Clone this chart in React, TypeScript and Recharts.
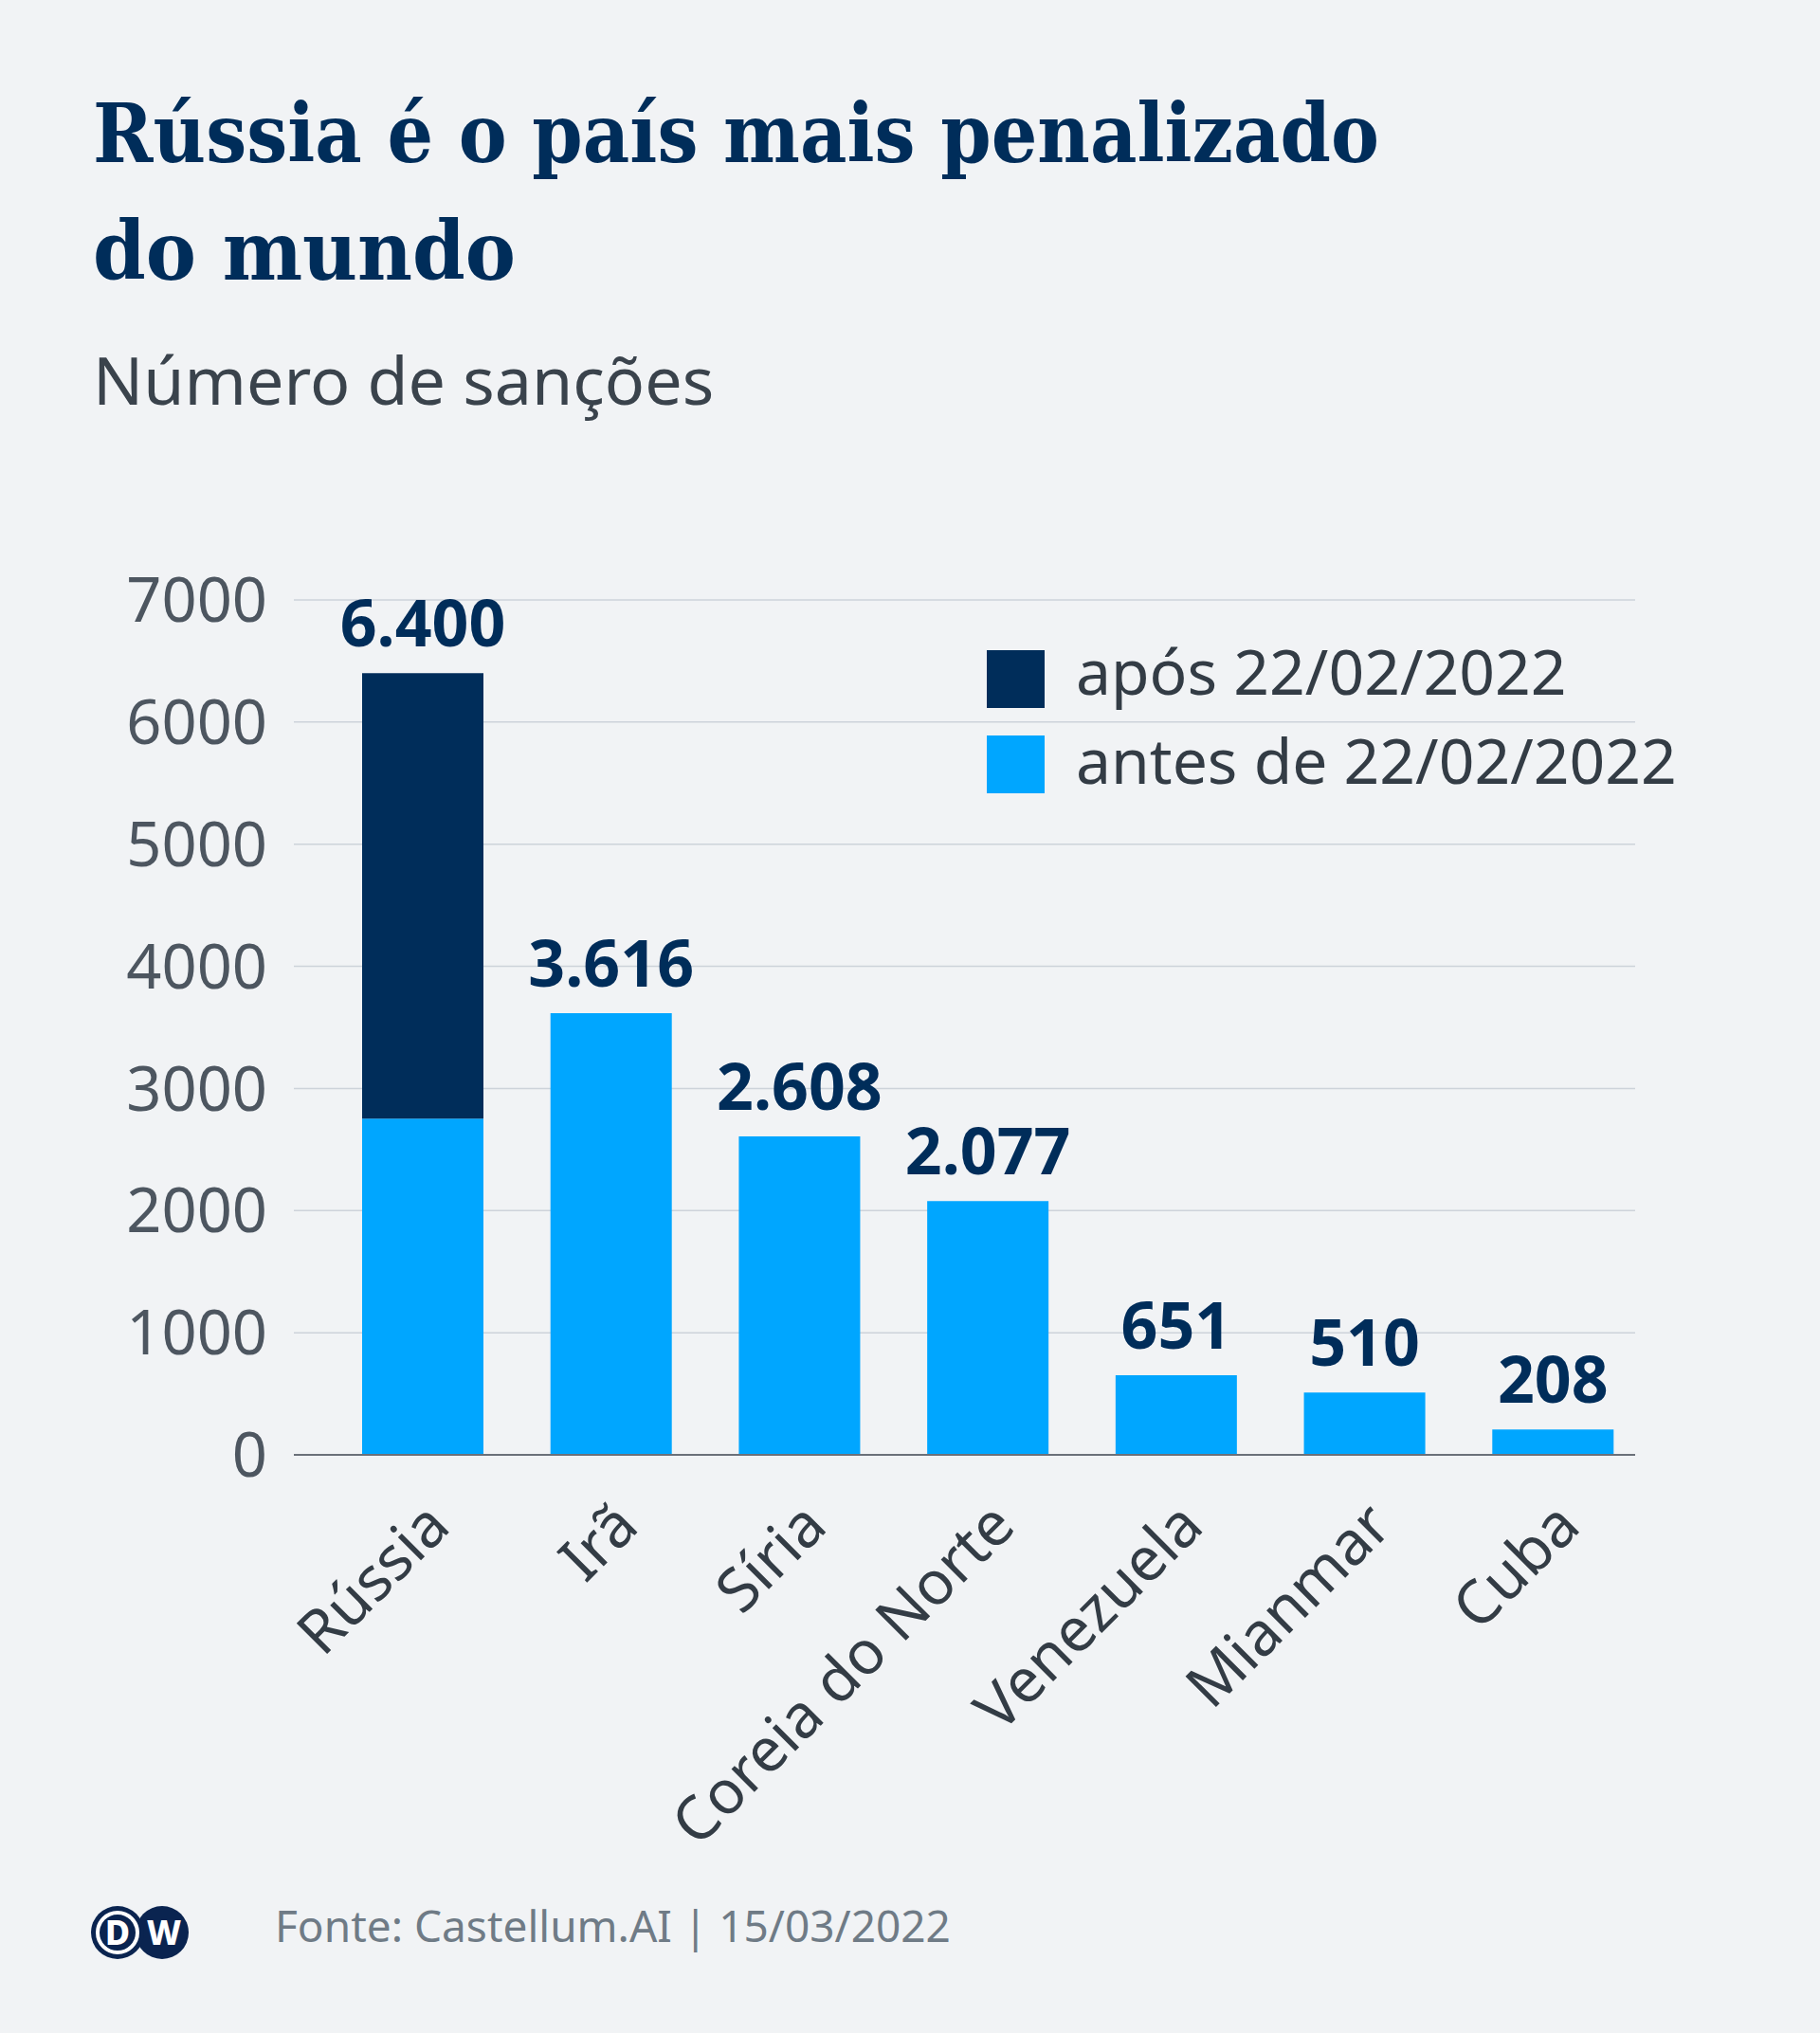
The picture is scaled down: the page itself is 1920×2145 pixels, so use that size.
import React from 'react';
import { BarChart, Bar, XAxis, YAxis, CartesianGrid, LabelList, Legend } from 'recharts';

const countries = ['Rússia', 'Irã', 'Síria', 'Coreia do Norte', 'Venezuela', 'Mianmar', 'Cuba'];
const beforeValues = [2754, 3616, 2608, 2077, 651, 510, 208];
const afterValues = [3646, 0, 0, 0, 0, 0, 0];
const yTicks = [0, 1000, 2000, 3000, 4000, 5000, 6000, 7000];
const seriesNames = { after: 'após 22/02/2022', before: 'antes de 22/02/2022' };
const titleLines = ['Rússia é o país mais penalizado', 'do mundo'];
const subtitle = 'Número de sanções';
const footer = 'Fonte: Castellum.AI | 15/03/2022';

const data = countries.map((c, i) => ({
  country: c,
  before: beforeValues[i],
  after: afterValues[i],
  total: beforeValues[i] + afterValues[i],
}));

const NAVY = '#002d5a';
const BLUE = '#00a6ff';
const BG = '#f1f3f5';
const FONT = '"Noto Sans", sans-serif';

const fmt = (n: number) => String(n).replace(/\B(?=(\d{3})+(?!\d))/g, '.');

const makeLabel = (onTopSeries: boolean) => (props: any) => {
  const { x, y, width, index } = props;
  const row = data[index];
  if (!row) return null;
  const hasAfter = row.after > 0;
  if (onTopSeries !== hasAfter) return null;
  return (
    <text x={x + width / 2} y={y - 28} textAnchor="middle" fill={NAVY}
      fontFamily={FONT} fontWeight={700} fontSize={68}>{fmt(row.total)}</text>
  );
};
const BeforeLabel = makeLabel(false);
const AfterLabel = makeLabel(true);

const XTick = (props: any) => {
  const { x, y, payload } = props;
  return (
    <g transform={`translate(${x + 31},${y + 78})`}>
      <text x={0} y={0} textAnchor="end" transform="rotate(-45)" fill="#333c45"
        fontFamily={FONT} fontSize={64}>{payload.value}</text>
    </g>
  );
};

const LegendContent = () => (
  <svg width={800} height={160} style={{ display: 'block', overflow: 'visible' }}>
    <rect x={0} y={0} width={61} height={61} fill={NAVY} />
    <text x={94} y={47} fill="#333c45" fontFamily={FONT} fontSize={66}>{seriesNames.after}</text>
    <rect x={0} y={90} width={61} height={61} fill={BLUE} />
    <text x={94} y={141} fill="#333c45" fontFamily={FONT} fontSize={66}>{seriesNames.before}</text>
  </svg>
);

export default function App() {
  return (
    <div style={{ position: 'absolute', left: 0, top: 0, width: 1920, height: 2145, background: BG, overflow: 'hidden' }}>
      <div style={{ position: 'absolute', left: 0, top: 0 }}>
        <BarChart width={1920} height={2145} data={data}
          margin={{ top: 633, right: 195, bottom: 600, left: 110 }} barSize={128}>
          <CartesianGrid vertical={false} stroke="#cdd3da" strokeWidth={1.5} />
          <YAxis type="number" domain={[0, 7000]} ticks={yTicks} width={200}
            axisLine={false} tickLine={false} tickSize={0} tickMargin={28}
            tick={{ fill: '#4d5660', fontSize: 65, fontFamily: FONT }} interval={0} />
          <XAxis dataKey="country" type="category" interval={0}
            padding={{ left: 37, right: -13 }}
            axisLine={{ stroke: '#6b7079', strokeWidth: 2 }} tickLine={false}
            tickSize={0} tickMargin={0} tick={<XTick />} height={10} />
          <Legend layout="vertical" align="center" verticalAlign="middle"
            wrapperStyle={{ left: 1041, top: 686, width: 800, height: 160 }}
            content={<LegendContent />} />
          <Bar dataKey="before" stackId="s" fill={BLUE} isAnimationActive={false}>
            <LabelList dataKey="total" content={<BeforeLabel />} />
          </Bar>
          <Bar dataKey="after" stackId="s" fill={NAVY} isAnimationActive={false}>
            <LabelList dataKey="total" content={<AfterLabel />} />
          </Bar>
        </BarChart>
      </div>
      <svg width={1920} height={2145} style={{ position: 'absolute', left: 0, top: 0, pointerEvents: 'none' }}>
        <text x={98} y={171} fill={NAVY} fontFamily='"DejaVu Serif", serif' fontWeight={700} fontSize={86}
          textLength={1357} lengthAdjust="spacingAndGlyphs">{titleLines[0]}</text>
        <text x={98} y={295} fill={NAVY} fontFamily='"DejaVu Serif", serif' fontWeight={700} fontSize={86}
          textLength={446} lengthAdjust="spacingAndGlyphs">{titleLines[1]}</text>
        <text x={98} y={427} fill="#3a434c" fontFamily={FONT} fontSize={70}>{subtitle}</text>
        <circle cx={171} cy={2039} r={28} fill="#0a2450" />
        <circle cx={124} cy={2039} r={28} fill="#0a2450" />
        <circle cx={124} cy={2039} r={21} fill="none" stroke="#ffffff" strokeWidth={4} />
        <text x={124} y={2052} textAnchor="middle" fill="#ffffff" fontFamily={FONT} fontWeight={800} fontSize={36}>D</text>
        <text x={173} y={2052} textAnchor="middle" fill="#ffffff" fontFamily={FONT} fontWeight={800} fontSize={36}>W</text>
        <text x={290} y={2049} fill="#6f7b86" fontFamily={FONT} fontSize={46}>{footer}</text>
      </svg>
    </div>
  );
}
